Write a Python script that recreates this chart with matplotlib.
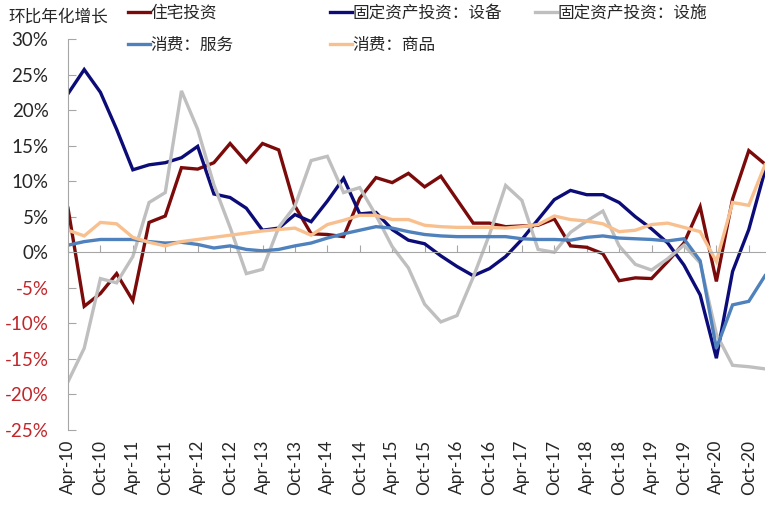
import matplotlib
matplotlib.use("Agg")
import matplotlib.pyplot as plt
import numpy as np

plt.rcParams['font.family'] = ['Lato', 'Noto Sans CJK SC', 'DejaVu Sans']
plt.rcParams['axes.unicode_minus'] = False

# --- DONNÉES (trimestrielles, Apr-10 -> Jan-21) ---
quarters = ["Apr-10", "Jul-10", "Oct-10", "Jan-11", "Apr-11", "Jul-11", "Oct-11", "Jan-12",
            "Apr-12", "Jul-12", "Oct-12", "Jan-13", "Apr-13", "Jul-13", "Oct-13", "Jan-14",
            "Apr-14", "Jul-14", "Oct-14", "Jan-15", "Apr-15", "Jul-15", "Oct-15", "Jan-16",
            "Apr-16", "Jul-16", "Oct-16", "Jan-17", "Apr-17", "Jul-17", "Oct-17", "Jan-18",
            "Apr-18", "Jul-18", "Oct-18", "Jan-19", "Apr-19", "Jul-19", "Oct-19", "Jan-20",
            "Apr-20", "Jul-20", "Oct-20", "Jan-21"]

housing = [6.2, -7.6, -5.8, -3.0, -6.8, 4.2, 5.1, 11.9, 11.7, 12.6, 15.3, 12.7, 15.3, 14.4,
           6.5, 2.6, 2.5, 2.2, 7.6, 10.5, 9.8, 11.1, 9.2, 10.7, 7.4, 4.1, 4.1, 3.6, 3.7, 3.8,
           4.7, 0.9, 0.7, -0.2, -4.0, -3.6, -3.7, -1.3, 1.3, 6.4, -4.1, 7.5, 14.3, 12.4]

equipment = [22.3, 25.7, 22.5, 17.3, 11.6, 12.3, 12.6, 13.3, 14.9, 8.2, 7.7, 6.2, 3.1, 3.4,
             5.3, 4.3, 7.2, 10.4, 5.4, 5.6, 3.2, 1.7, 1.2, -0.5, -2.0, -3.3, -2.3, -0.6, 1.8,
             4.6, 7.4, 8.7, 8.1, 8.1, 7.0, 5.0, 3.3, 1.3, -1.8, -6.0, -14.9, -2.7, 3.2, 11.5]

structures = [-18.2, -13.5, -3.7, -4.3, -0.6, 7.0, 8.4, 22.7, 17.3, 9.5, 3.5, -3.0, -2.4, 3.5,
              6.5, 12.9, 13.5, 8.4, 9.1, 5.2, 0.8, -2.2, -7.3, -9.8, -8.9, -3.5, 2.5, 9.4, 7.3,
              0.4, 0.0, 2.8, 4.4, 5.8, 0.9, -1.7, -2.5, -0.9, 1.0, -1.5, -11.5, -15.9, -16.1, -16.4]

services = [1.0, 1.5, 1.8, 1.8, 1.8, 1.5, 1.3, 1.4, 1.1, 0.6, 0.9, 0.4, 0.2, 0.4, 0.9, 1.3,
            2.0, 2.6, 3.1, 3.6, 3.4, 2.9, 2.5, 2.3, 2.2, 2.2, 2.2, 2.2, 1.9, 1.8, 1.8, 1.7,
            2.1, 2.3, 2.0, 1.9, 1.8, 1.6, 1.9, -1.2, -13.5, -7.4, -6.9, -3.3]

goods = [3.1, 2.3, 4.2, 4.0, 2.1, 1.4, 0.9, 1.5, 1.8, 2.1, 2.4, 2.7, 3.0, 3.2, 3.4, 2.4, 3.9,
         4.5, 5.2, 5.2, 4.6, 4.6, 3.8, 3.6, 3.5, 3.5, 3.5, 3.4, 3.6, 3.9, 5.1, 4.6, 4.4, 4.0,
         2.9, 3.1, 3.9, 4.1, 3.5, 2.9, -1.3, 7.0, 6.6, 12.3]

series_names = ["住宅投资", "固定资产投资：设备", "固定资产投资：设施", "消费：服务", "消费：商品"]
series_colors = ["#7B0A0A", "#0C0C78", "#BFBFBF", "#4F81BD", "#F9C08F"]
yticks = [-25, -20, -15, -10, -5, 0, 5, 10, 15, 20, 25, 30]

# --- FIGURE ---
fig = plt.figure(figsize=(7.84, 5.11), dpi=100)
ax = fig.add_axes([68 / 784, 1 - 430 / 511, 697 / 784, 391 / 511])

x = np.arange(len(quarters))
lines = []
for data, name, color in zip([housing, equipment, structures, services, goods],
                             series_names, series_colors):
    ln, = ax.plot(x, data, color=color, linewidth=2.4, label=name, solid_joinstyle='miter')
    lines.append(ln)

ax.set_xlim(0, len(quarters) - 1)
ax.set_ylim(-25, 30)

# axe des x sur la ligne zéro, étiquettes en bas
grey = "#A6A6A6"
ax.spines['bottom'].set_position(('data', 0))
ax.spines['bottom'].set_color(grey)
ax.spines['left'].set_color(grey)
ax.spines['top'].set_visible(False)
ax.spines['right'].set_visible(False)
ax.set_xticks(x[::2])
ax.tick_params(axis='x', direction='in', length=5, color=grey, labelbottom=False)

sec = ax.secondary_xaxis('bottom')
sec.set_xticks(x[::2], quarters[::2], rotation=90)
sec.tick_params(length=0, pad=7, labelsize=12.5, labelcolor="#262626")
sec.spines['bottom'].set_visible(False)

ax.set_yticks(yticks)
ax.set_yticklabels([f"{v}%" for v in yticks])
ax.tick_params(axis='y', direction='in', length=6, color=grey, pad=14, labelsize=13.5)
for lab, v in zip(ax.get_yticklabels(), yticks):
    lab.set_color("#C0262A" if v < 0 else "#262626")

fig.text(8 / 784, 1 - 17 / 511, "环比年化增长", fontsize=12, va='center', ha='left',
         color="#262626")

# légende en trois colonnes placées à la main
cols = [([lines[0], lines[3]], 128), ([lines[1], lines[4]], 330), ([lines[2]], 535)]
for hs, xpos in cols:
    fig.legend(handles=hs, labels=[h.get_label() for h in hs], loc='upper left',
               bbox_to_anchor=(xpos / 784, 1 - 5 / 511), frameon=False, fontsize=12,
               handlelength=1.3, handletextpad=0.05, labelspacing=0.95,
               borderpad=0, borderaxespad=0, labelcolor="#262626")

fig.savefig("out.png", dpi=100)
